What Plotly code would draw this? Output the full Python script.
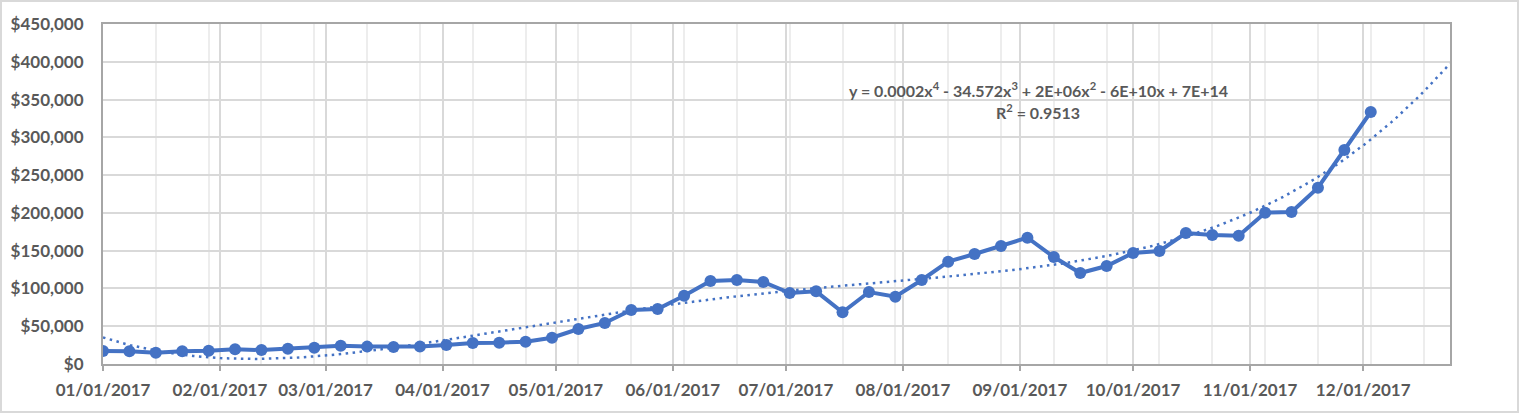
import numpy as np
import pandas as pd
import plotly.graph_objects as go

# ---- data ----
start_date = "2017-01-01"
n_weeks = 49
dates = pd.date_range(start_date, periods=n_weeks, freq="7D")
values = [
    17200, 17000, 15000, 17000, 17600, 19400, 18500, 20300, 21600, 24300,
    23000, 22500, 23000, 25100, 27800, 28200, 29500, 34800, 46300, 54300,
    71500, 72800, 90400, 109800, 111200, 108500, 94000, 96200, 68400, 95300,
    89100, 111200, 135400, 145600, 156200, 167200, 141600, 120400, 129700, 146900,
    149600, 173400, 170700, 169800, 200300, 201200, 233400, 283200, 333500,
]
month_ticks = pd.date_range("2017-01-01", periods=12, freq="MS")
month_labels = [d.strftime("%m/%d/%Y") for d in month_ticks]
y_ticks = list(range(0, 450001, 50000))
axis_end = "2017-12-24"
equation_text = "y = 0.0002x<sup>4</sup> - 34.572x<sup>3</sup> + 2E+06x<sup>2</sup> - 6E+10x + 7E+14"
r2_text = "R<sup>2</sup> = 0.9513"

# ---- polynomial trendline (order 4), fitted on the data, forecast to axis end ----
day_off = np.array([(d - dates[0]).days for d in dates], dtype=float)
coef = np.polyfit(day_off, np.array(values, dtype=float), 4)
end_off = (pd.Timestamp(axis_end) - dates[0]).days
trend_days = np.linspace(0, end_off, 300)
trend_x = [dates[0] + pd.Timedelta(days=float(d)) for d in trend_days]
trend_y = np.polyval(coef, trend_days)

BLUE = "#4472C4"
TXT = "#595959"
FONT = "Lato"

fig = go.Figure()
fig.add_trace(go.Scatter(
    x=dates, y=values, mode="lines+markers",
    line=dict(color=BLUE, width=4),
    marker=dict(color=BLUE, size=12),
    showlegend=False, hoverinfo="x+y",
))
fig.add_trace(go.Scatter(
    x=trend_x, y=trend_y, mode="lines",
    line=dict(color=BLUE, width=2.5, dash="2.5px,4.5px"),
    showlegend=False, hoverinfo="skip",
))

W, H = 1520, 414
L, R, T, B = 103, 70, 24, 50
pw, ph = W - L - R, H - T - B

fig.update_layout(
    width=W, height=H, autosize=False,
    margin=dict(l=L, r=R, t=T, b=B, pad=0),
    paper_bgcolor="white", plot_bgcolor="white",
    font=dict(family=FONT, color=TXT, size=17),
    xaxis=dict(
        type="date", range=[start_date, axis_end], automargin=False,
        tickmode="array", tickvals=month_ticks, ticktext=month_labels,
        showgrid=True, gridcolor="#D9D9D9", gridwidth=2,
        ticks="outside", ticklen=5, tickwidth=2, tickcolor="#A6A6A6",
        tickfont=dict(family=FONT, size=17, color=TXT, weight="bold"),
        ticklabelstandoff=5,
        showline=True, linecolor="#A6A6A6", linewidth=2, mirror=True,
        zeroline=False,
        minor=dict(tick0=start_date, dtick=14 * 86400000, showgrid=True,
                   gridcolor="#EDEDED", gridwidth=2, ticks=""),
    ),
    yaxis=dict(
        range=[0, 450000], tickmode="array", tickvals=y_ticks, automargin=False,
        tickformat="$,.0f",
        showgrid=True, gridcolor="#D9D9D9", gridwidth=2,
        ticks="", ticklabelstandoff=14,
        tickfont=dict(family=FONT, size=17, color=TXT, weight="bold"),
        showline=True, linecolor="#A6A6A6", linewidth=2, mirror=True,
        zeroline=False,
    ),
    annotations=[
        dict(xref="paper", yref="paper", x=(1038 - L) / pw, y=(364 - 89) / ph,
             text=equation_text, showarrow=False, xanchor="center", yanchor="middle",
             font=dict(family=FONT, size=16, color=TXT, weight="bold")),
        dict(xref="paper", yref="paper", x=(1038 - L) / pw, y=(364 - 112) / ph,
             text=r2_text, showarrow=False, xanchor="center", yanchor="middle",
             font=dict(family=FONT, size=16, color=TXT, weight="bold")),
    ],
    shapes=[
        dict(type="rect", xref="paper", yref="paper",
             x0=(1 - L) / pw, x1=(W - 2 - L) / pw,
             y0=(364 - (H - 2)) / ph, y1=(364 - 1) / ph,
             line=dict(color="#D9D9D9", width=2), fillcolor="rgba(0,0,0,0)", layer="below"),
    ],
)

fig.write_html("out.html", config={"displayModeBar": False},
               post_script="document.body.style.margin='0px';document.body.style.overflow='hidden';")
